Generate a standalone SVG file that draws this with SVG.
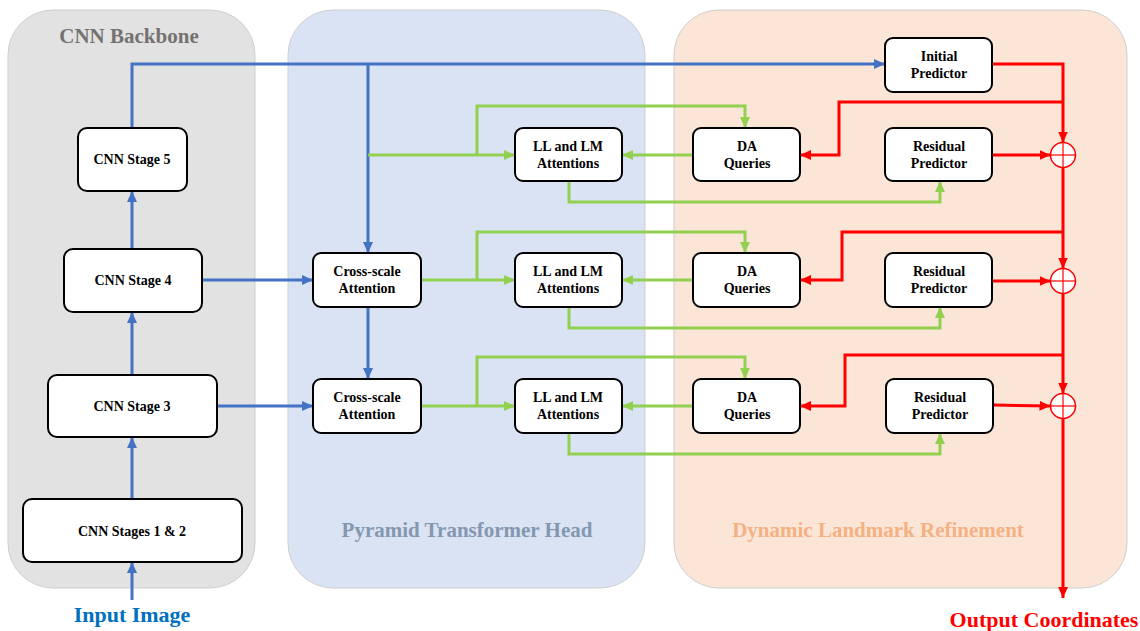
<svg xmlns="http://www.w3.org/2000/svg" width="1140" height="631" viewBox="0 0 1140 631">
<style>
.panel{stroke:#cfcfcf;stroke-width:1}
.node rect{fill:#fff;stroke:#000;stroke-width:2}
.node text{font-family:"Liberation Serif",serif;font-weight:bold;font-size:14px;text-anchor:middle;fill:#000}
.title{font-family:"Liberation Serif",serif;font-weight:bold;font-size:21px;text-anchor:middle}
.io{font-family:"Liberation Serif",serif;font-weight:bold;font-size:22px;text-anchor:middle}
.b{fill:none;stroke:#4472c4;stroke-width:3}
.g{fill:none;stroke:#92d050;stroke-width:3}
.r{fill:none;stroke:#ff0000;stroke-width:3}
.adder circle{fill:#fff;stroke:#ff0000;stroke-width:1.5}
.adder line{stroke:#ff0000;stroke-width:1.2}
</style>
<defs>
<marker id="ab" markerUnits="userSpaceOnUse" markerWidth="11" markerHeight="10" refX="11" refY="5" orient="auto"><path d="M0,0 L11,5 L0,10 z" fill="#4472c4"/></marker>
<marker id="ag" markerUnits="userSpaceOnUse" markerWidth="11" markerHeight="10" refX="11" refY="5" orient="auto"><path d="M0,0 L11,5 L0,10 z" fill="#92d050"/></marker>
<marker id="ar" markerUnits="userSpaceOnUse" markerWidth="11" markerHeight="10" refX="11" refY="5" orient="auto"><path d="M0,0 L11,5 L0,10 z" fill="#ff0000"/></marker>
</defs>
<rect width="1140" height="631" fill="#fff"/>
<g id="panels">
<rect class="panel" x="8" y="10" width="247" height="578" rx="45" fill="#e2e2e2"/>
<rect class="panel" x="288" y="10" width="357" height="578" rx="45" fill="#dae3f3"/>
<rect class="panel" x="674" y="10" width="453" height="578" rx="45" fill="#fbe5d6"/>
<text class="title" x="129" y="43" fill="#767171">CNN Backbone</text>
<text class="title" x="467" y="537" fill="#8497b0">Pyramid Transformer Head</text>
<text class="title" x="878" y="537" fill="#f4b183">Dynamic Landmark Refinement</text>
<text class="io" x="132" y="622" fill="#0070c0">Input Image</text>
<text class="io" x="1044" y="627" fill="#ff0000">Output Coordinates</text>
</g>
<g id="connectors">
<!-- blue -->
<path class="b" d="M132,600 L132,562" marker-end="url(#ab)"/>
<path class="b" d="M132,499 L132,437" marker-end="url(#ab)"/>
<path class="b" d="M132,375 L132,312" marker-end="url(#ab)"/>
<path class="b" d="M132,249 L132,191" marker-end="url(#ab)"/>
<path class="b" d="M132,128 L132,64 L885,64" marker-end="url(#ab)"/>
<path class="b" d="M368,64 L368,253" marker-end="url(#ab)"/>
<path class="b" d="M368,307 L368,379" marker-end="url(#ab)"/>
<path class="b" d="M202,280 L313,280" marker-end="url(#ab)"/>
<path class="b" d="M217,406 L313,406" marker-end="url(#ab)"/>
<!-- green row 1 -->
<path class="g" d="M368,155 L515,155" marker-end="url(#ag)"/>
<path class="g" d="M477,155 L477,106 L745,106 L745,128" marker-end="url(#ag)"/>
<path class="g" d="M693,155 L622,155" marker-end="url(#ag)"/>
<path class="g" d="M569,181 L569,202 L940,202 L940,181" marker-end="url(#ag)"/>
<!-- green row 2 -->
<path class="g" d="M421,280 L515,280" marker-end="url(#ag)"/>
<path class="g" d="M477,280 L477,232 L745,232 L745,253" marker-end="url(#ag)"/>
<path class="g" d="M693,280 L622,280" marker-end="url(#ag)"/>
<path class="g" d="M569,307 L569,328 L940,328 L940,307" marker-end="url(#ag)"/>
<!-- green row 3 -->
<path class="g" d="M421,406 L515,406" marker-end="url(#ag)"/>
<path class="g" d="M477,406 L477,357 L745,357 L745,379" marker-end="url(#ag)"/>
<path class="g" d="M693,406 L622,406" marker-end="url(#ag)"/>
<path class="g" d="M569,433 L569,454 L940,454 L940,433" marker-end="url(#ag)"/>
<!-- red -->
<path class="r" d="M992,64 L1063,64 L1063,142.5" marker-end="url(#ar)"/>
<path class="r" d="M1063,102 L839,102 L839,155 L800,155" marker-end="url(#ar)"/>
<path class="r" d="M992,155 L1050.5,155" marker-end="url(#ar)"/>
<path class="r" d="M1063,167.5 L1063,268.5" marker-end="url(#ar)"/>
<path class="r" d="M1063,232 L842,232 L842,280 L800,280" marker-end="url(#ar)"/>
<path class="r" d="M992,281 L1050.5,281" marker-end="url(#ar)"/>
<path class="r" d="M1063,293.5 L1063,393.5" marker-end="url(#ar)"/>
<path class="r" d="M1063,355 L845,355 L845,406 L800,406" marker-end="url(#ar)"/>
<path class="r" d="M993,405 L1050.5,406" marker-end="url(#ar)"/>
<path class="r" d="M1063,418.5 L1063,598" marker-end="url(#ar)"/>
</g>
<g id="adder1" class="adder"><circle cx="1063" cy="155" r="12.5"/><line x1="1050.5" y1="155" x2="1075.5" y2="155"/><line x1="1063" y1="142.5" x2="1063" y2="167.5"/></g>
<g id="adder2" class="adder"><circle cx="1063" cy="281" r="12.5"/><line x1="1050.5" y1="281" x2="1075.5" y2="281"/><line x1="1063" y1="268.5" x2="1063" y2="293.5"/></g>
<g id="adder3" class="adder"><circle cx="1063" cy="406" r="12.5"/><line x1="1050.5" y1="406" x2="1075.5" y2="406"/><line x1="1063" y1="393.5" x2="1063" y2="418.5"/></g>
<g id="cnn12" class="node"><rect x="23" y="499" width="219" height="63" rx="9"/><text x="132" y="536">CNN Stages 1 &amp; 2</text></g>
<g id="cnn3" class="node"><rect x="48" y="375" width="169" height="62" rx="9"/><text x="132" y="411">CNN Stage 3</text></g>
<g id="cnn4" class="node"><rect x="64" y="249" width="138" height="63" rx="9"/><text x="133" y="285">CNN Stage 4</text></g>
<g id="cnn5" class="node"><rect x="78" y="128" width="109" height="63" rx="9"/><text x="132" y="164">CNN Stage 5</text></g>
<g id="csa1" class="node"><rect x="313" y="253" width="108" height="54" rx="8"/><text x="367" y="276">Cross-scale</text><text x="367" y="293">Attention</text></g>
<g id="csa2" class="node"><rect x="313" y="379" width="108" height="54" rx="8"/><text x="367" y="402">Cross-scale</text><text x="367" y="419">Attention</text></g>
<g id="ll1" class="node"><rect x="515" y="128" width="107" height="53" rx="8"/><text x="568" y="151">LL and LM</text><text x="568" y="168">Attentions</text></g>
<g id="ll2" class="node"><rect x="515" y="253" width="107" height="54" rx="8"/><text x="568" y="276">LL and LM</text><text x="568" y="293">Attentions</text></g>
<g id="ll3" class="node"><rect x="515" y="379" width="107" height="54" rx="8"/><text x="568" y="402">LL and LM</text><text x="568" y="419">Attentions</text></g>
<g id="da1" class="node"><rect x="693" y="128" width="107" height="53" rx="8"/><text x="747" y="151">DA</text><text x="747" y="168">Queries</text></g>
<g id="da2" class="node"><rect x="693" y="253" width="107" height="54" rx="8"/><text x="747" y="276">DA</text><text x="747" y="293">Queries</text></g>
<g id="da3" class="node"><rect x="693" y="379" width="107" height="54" rx="8"/><text x="747" y="402">DA</text><text x="747" y="419">Queries</text></g>
<g id="init" class="node"><rect x="885" y="38" width="107" height="54" rx="8"/><text x="939" y="61">Initial</text><text x="939" y="78">Predictor</text></g>
<g id="res1" class="node"><rect x="885" y="128" width="107" height="53" rx="8"/><text x="939" y="151">Residual</text><text x="939" y="168">Predictor</text></g>
<g id="res2" class="node"><rect x="885" y="253" width="107" height="54" rx="8"/><text x="939" y="276">Residual</text><text x="939" y="293">Predictor</text></g>
<g id="res3" class="node"><rect x="886" y="379" width="107" height="54" rx="8"/><text x="940" y="402">Residual</text><text x="940" y="419">Predictor</text></g>
</svg>
